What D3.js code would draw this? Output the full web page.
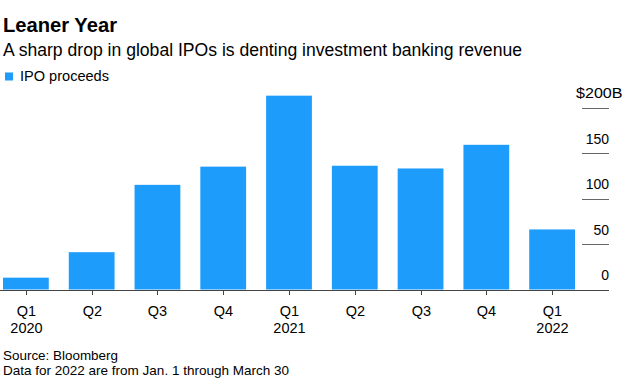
<!DOCTYPE html>
<html>
<head>
<meta charset="utf-8">
<script src="https://cdn.jsdelivr.net/npm/d3@7"></script>
<style>
  html, body { margin: 0; padding: 0; background: #fff; }
  svg { display: block; font-family: "Liberation Sans", Arial, Helvetica, sans-serif; }
</style>
</head>
<body>
<svg id="chart" width="632" height="387"></svg>
<script>
const quarters = ["Q1", "Q2", "Q3", "Q4", "Q1", "Q2", "Q3", "Q4", "Q1"];
const years = ["2020", "", "", "", "2021", "", "", "", "2022"];
const proceeds = [13, 41, 115, 135, 213, 136, 133, 159, 66];
const yTicks = [0, 50, 100, 150, 200];

const title = "Leaner Year";
const subtitle = "A sharp drop in global IPOs is denting investment banking revenue";
const legendLabel = "IPO proceeds";
const notes = ["Source: Bloomberg", "Data for 2022 are from Jan. 1 through March 30"];

const barColor = "#1d9cfc";
const svg = d3.select("#chart");

const ids = quarters.map((q, i) => i);
const x = d3.scaleBand().domain(ids).range([3, 575]).paddingInner(0.304).paddingOuter(0);
const y = d3.scaleLinear().domain([0, 200]).range([289.5, 107.5]);

// Titles
svg.append("text").attr("x", 3).attr("y", 31.5)
  .attr("font-size", 19.5).attr("font-weight", "bold").attr("fill", "#000")
  .attr("textLength", 114).attr("lengthAdjust", "spacingAndGlyphs").text(title);
svg.append("text").attr("x", 3).attr("y", 55.5)
  .attr("font-size", 17.5).attr("fill", "#000")
  .attr("textLength", 519).attr("lengthAdjust", "spacingAndGlyphs").text(subtitle);

// Legend
svg.append("rect").attr("x", 5).attr("y", 72.5).attr("width", 8).attr("height", 8).attr("fill", barColor);
svg.append("text").attr("x", 20).attr("y", 81)
  .attr("font-size", 14.5).attr("fill", "#000")
  .attr("textLength", 89).attr("lengthAdjust", "spacingAndGlyphs").text(legendLabel);

// Gridlines (short, right side)
const grid = svg.append("g");
yTicks.filter(d => d > 0).forEach(d => {
  grid.append("line")
    .attr("x1", 582).attr("x2", 609)
    .attr("y1", Math.round(y(d)) + 0.5).attr("y2", Math.round(y(d)) + 0.5)
    .attr("stroke", "#666").attr("stroke-width", 1);
});

// Y labels
yTicks.forEach(d => {
  if (d === 200) {
    svg.append("text").attr("x", 576).attr("y", y(d) - 9.5)
      .attr("font-size", 14.5).attr("fill", "#000")
      .attr("textLength", 46.5).attr("lengthAdjust", "spacingAndGlyphs")
      .text("$" + d + "B");
  } else {
    svg.append("text")
      .attr("x", 609).attr("y", y(d) - 9.5)
      .attr("font-size", 14).attr("fill", "#000").attr("text-anchor", "end")
      .text(d);
  }
});

// Bars
svg.append("g").selectAll("rect").data(proceeds).join("rect")
  .attr("x", (d, i) => x(i))
  .attr("width", x.bandwidth())
  .attr("y", d => y(d))
  .attr("height", d => y(0) - y(d))
  .attr("fill", barColor);

// Baseline
svg.append("line").attr("x1", 0).attr("x2", 609)
  .attr("y1", Math.round(y(0)) + 0.5).attr("y2", Math.round(y(0)) + 0.5)
  .attr("stroke", "#444").attr("stroke-width", 1);

// X axis ticks & labels
const xa = svg.append("g");
ids.forEach(i => {
  const cx = Math.round(x(i) + x.bandwidth() / 2) + 0.5;
  xa.append("line").attr("x1", cx).attr("x2", cx)
    .attr("y1", Math.round(y(0)) + 1).attr("y2", 295)
    .attr("stroke", "#444").attr("stroke-width", 1);
  xa.append("text").attr("x", cx).attr("y", 315.5)
    .attr("font-size", 14.5).attr("text-anchor", "middle").attr("fill", "#000").text(quarters[i]);
  if (years[i]) {
    xa.append("text").attr("x", cx).attr("y", 333.3)
      .attr("font-size", 14.5).attr("text-anchor", "middle").attr("fill", "#000").text(years[i]);
  }
});

// Notes
const noteWidths = [115, 286];
notes.forEach((n, k) => {
  svg.append("text").attr("x", 3).attr("y", 360 + k * 15)
    .attr("font-size", 13.2).attr("fill", "#000")
    .attr("textLength", noteWidths[k]).attr("lengthAdjust", "spacingAndGlyphs").text(n);
});
</script>
</body>
</html>
